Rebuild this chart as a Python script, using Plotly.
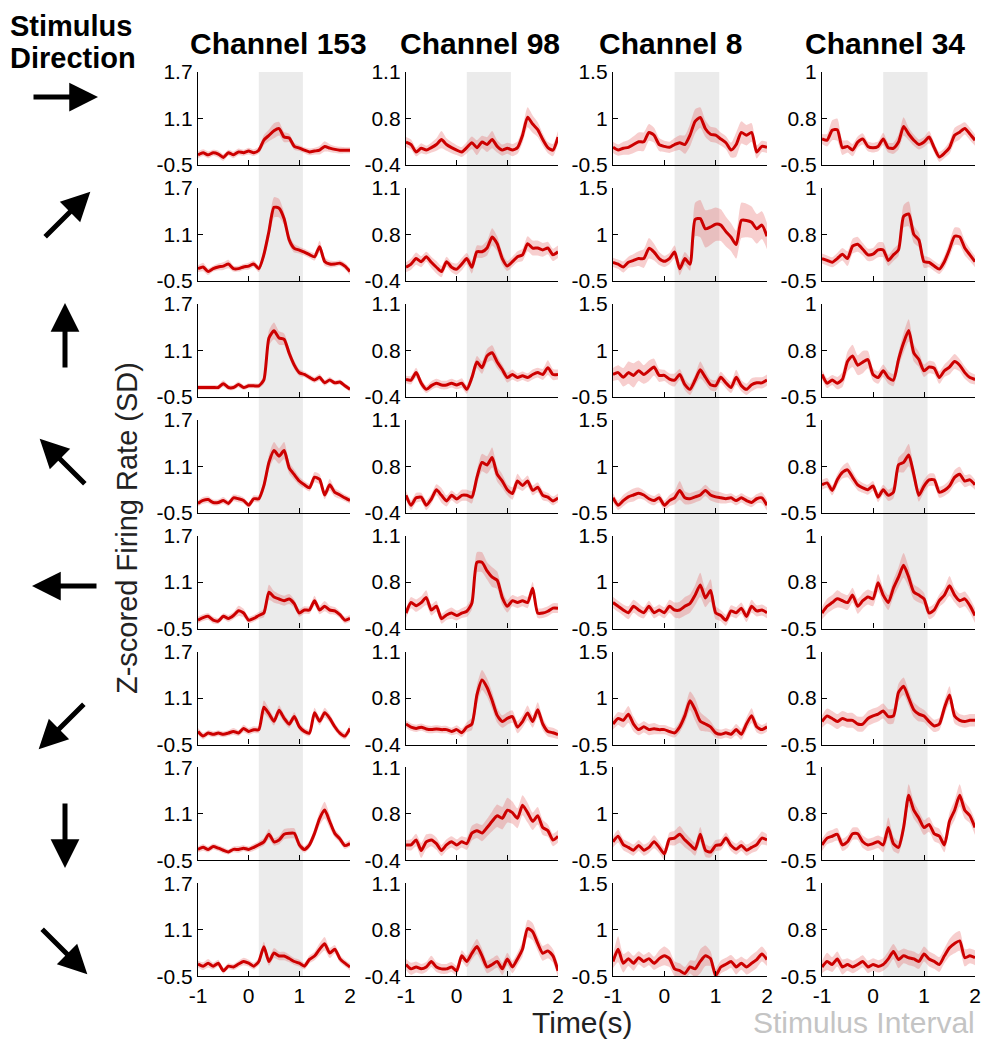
import plotly.graph_objects as go
import math

# ---------------- data ----------------
time = [-1.0, -0.9, -0.8, -0.7, -0.6, -0.5, -0.4, -0.3, -0.2, -0.1, 0.0, 0.1, 0.2, 0.3, 0.4, 0.5,
        0.6, 0.7, 0.8, 0.9, 1.0, 1.1, 1.2, 1.3, 1.4, 1.5, 1.6, 1.7, 1.8, 1.9, 2.0]

channels = ["Channel 153", "Channel 98", "Channel 8", "Channel 34"]
y_lo = [-0.5, -0.4, -0.5, -0.5]
y_hi = [1.7, 1.1, 1.5, 1.0]
y_tick_text = [["-0.5", "1.1", "1.7"], ["-0.4", "0.8", "1.1"], ["-0.5", "1", "1.5"], ["-0.5", "0.8", "1"]]
x_tick_vals = [-1, 0, 1, 2]
x_tick_text = ["-1", "0", "1", "2"]
stim_interval = [0.2, 1.07]
directions_deg = [0, 45, 90, 135, 180, 225, 270, 315]

mean_ch153 = [
    [-0.26,-0.21,-0.26,-0.21,-0.24,-0.32,-0.21,-0.26,-0.19,-0.21,-0.17,-0.21,-0.15,0.09,0.20,0.31,0.36,0.16,0.14,-0.06,-0.10,-0.15,-0.19,-0.17,-0.15,-0.06,-0.10,-0.13,-0.15,-0.15,-0.15],
    [-0.21,-0.17,-0.28,-0.21,-0.17,-0.15,-0.10,-0.21,-0.21,-0.17,-0.15,-0.10,-0.21,0.12,0.67,1.24,1.22,0.97,0.47,0.27,0.23,0.18,0.12,0.07,0.31,-0.04,-0.10,-0.10,-0.08,-0.15,-0.28],
    [-0.28,-0.28,-0.28,-0.28,-0.28,-0.19,-0.28,-0.28,-0.21,-0.28,-0.24,-0.24,-0.24,-0.10,0.89,1.06,0.89,0.86,0.53,0.25,0.07,0.03,-0.04,-0.10,-0.04,-0.17,-0.10,-0.17,-0.15,-0.24,-0.32],
    [-0.28,-0.21,-0.19,-0.26,-0.26,-0.21,-0.28,-0.15,-0.17,-0.21,-0.32,-0.17,-0.17,0.14,0.69,0.97,0.84,0.97,0.56,0.40,0.25,0.16,0.09,0.34,0.29,-0.08,0.16,-0.02,-0.08,-0.15,-0.21],
    [-0.30,-0.24,-0.21,-0.30,-0.32,-0.21,-0.26,-0.19,-0.08,-0.13,-0.30,-0.26,-0.19,-0.13,0.36,0.25,0.20,0.16,0.20,0.09,-0.13,-0.06,-0.06,0.16,-0.06,0.03,-0.06,-0.08,-0.17,-0.30,-0.26],
    [-0.19,-0.30,-0.23,-0.26,-0.23,-0.26,-0.23,-0.19,-0.23,-0.12,-0.19,-0.15,-0.15,0.38,0.23,0.05,0.31,0.12,-0.02,0.16,-0.08,-0.19,-0.23,0.25,0.05,0.25,0.12,-0.08,-0.23,-0.30,-0.12],
    [-0.24,-0.19,-0.24,-0.17,-0.21,-0.26,-0.30,-0.24,-0.24,-0.21,-0.24,-0.19,-0.13,-0.06,0.12,-0.06,-0.02,0.12,0.14,0.14,-0.13,-0.24,-0.13,0.14,0.49,0.69,0.42,0.14,0.01,-0.15,-0.10],
    [-0.21,-0.26,-0.19,-0.26,-0.19,-0.37,-0.26,-0.28,-0.21,-0.15,-0.19,-0.26,-0.15,0.20,-0.15,0.05,-0.02,-0.02,-0.08,-0.15,-0.19,-0.26,-0.10,-0.02,0.14,0.27,0.05,0.14,-0.08,-0.19,-0.28],
]
sem_ch153 = [
    [0.08,0.08,0.08,0.07,0.08,0.08,0.07,0.08,0.08,0.07,0.08,0.08,0.08,0.12,0.14,0.18,0.16,0.12,0.10,0.08,0.07,0.07,0.08,0.08,0.10,0.12,0.09,0.08,0.08,0.07,0.07],
    [0.08,0.10,0.08,0.07,0.08,0.09,0.10,0.07,0.07,0.07,0.08,0.08,0.08,0.12,0.18,0.24,0.22,0.15,0.12,0.10,0.08,0.08,0.08,0.09,0.14,0.10,0.08,0.07,0.07,0.08,0.08],
    [0.06,0.06,0.06,0.06,0.06,0.08,0.06,0.06,0.07,0.06,0.06,0.06,0.06,0.10,0.18,0.20,0.16,0.14,0.12,0.10,0.08,0.07,0.07,0.07,0.08,0.07,0.07,0.06,0.06,0.06,0.06],
    [0.07,0.08,0.08,0.07,0.07,0.08,0.07,0.08,0.08,0.07,0.07,0.08,0.08,0.12,0.18,0.20,0.18,0.20,0.14,0.12,0.10,0.09,0.09,0.12,0.12,0.10,0.14,0.10,0.09,0.08,0.08],
    [0.08,0.08,0.08,0.08,0.07,0.07,0.08,0.08,0.12,0.10,0.08,0.08,0.08,0.10,0.18,0.14,0.12,0.12,0.12,0.10,0.09,0.09,0.09,0.12,0.10,0.12,0.10,0.09,0.08,0.08,0.08],
    [0.08,0.08,0.07,0.07,0.07,0.07,0.07,0.08,0.07,0.09,0.08,0.08,0.08,0.16,0.12,0.10,0.12,0.10,0.09,0.10,0.08,0.08,0.08,0.12,0.10,0.12,0.10,0.09,0.08,0.08,0.09],
    [0.07,0.08,0.07,0.07,0.07,0.07,0.06,0.07,0.08,0.07,0.07,0.08,0.08,0.09,0.12,0.09,0.10,0.12,0.12,0.12,0.09,0.08,0.09,0.12,0.16,0.20,0.16,0.10,0.09,0.08,0.08],
    [0.08,0.09,0.10,0.08,0.08,0.07,0.07,0.07,0.08,0.09,0.08,0.08,0.09,0.12,0.10,0.12,0.10,0.10,0.09,0.08,0.08,0.08,0.09,0.10,0.14,0.16,0.12,0.10,0.09,0.08,0.08],
]

mean_ch98 = [
    [-0.03,-0.07,-0.19,-0.13,-0.16,-0.12,-0.07,0.01,-0.07,-0.12,-0.16,-0.19,-0.12,-0.04,-0.12,-0.03,-0.07,0.01,-0.10,-0.16,-0.13,-0.16,-0.12,0.08,0.37,0.26,0.17,0.01,-0.12,-0.16,0.05],
    [-0.18,-0.13,-0.04,-0.09,-0.01,-0.10,-0.18,-0.25,-0.09,-0.18,-0.21,-0.13,-0.04,-0.18,0.07,0.07,0.13,0.31,0.20,-0.04,-0.16,-0.09,-0.01,0.02,0.20,0.13,0.13,0.10,0.13,0.02,0.07],
    [-0.12,-0.13,-0.01,-0.18,-0.28,-0.22,-0.18,-0.21,-0.21,-0.18,-0.21,-0.18,-0.28,-0.09,0.16,0.07,0.26,0.31,0.16,0.04,-0.09,-0.04,-0.09,-0.06,-0.09,-0.04,-0.01,-0.04,0.07,-0.04,-0.04],
    [-0.12,-0.28,-0.16,-0.15,-0.28,-0.18,-0.03,-0.12,-0.21,-0.12,-0.18,-0.12,-0.12,-0.15,0.17,0.41,0.37,0.49,0.22,0.11,-0.03,-0.09,0.11,0.04,0.11,-0.04,0.01,-0.12,-0.15,-0.21,-0.16],
    [-0.15,0.02,-0.03,0.02,0.10,-0.10,-0.04,-0.24,-0.18,-0.15,-0.19,-0.15,-0.12,0.01,0.67,0.67,0.53,0.43,0.38,0.10,-0.04,0.05,0.02,0.05,0.02,0.25,-0.15,-0.15,-0.12,-0.07,-0.07],
    [-0.07,-0.12,-0.14,-0.12,-0.15,-0.16,-0.15,-0.16,-0.16,-0.19,-0.16,-0.21,-0.12,-0.07,0.40,0.64,0.52,0.31,0.07,-0.03,0.02,0.05,-0.12,-0.03,0.11,-0.03,0.16,-0.07,-0.19,-0.21,-0.24],
    [-0.15,-0.15,-0.07,-0.24,-0.10,-0.07,-0.13,-0.24,-0.15,-0.10,-0.15,-0.10,-0.13,0.04,0.08,0.04,0.13,0.23,0.32,0.28,0.41,0.37,0.28,0.49,0.37,0.23,0.32,0.13,0.08,-0.07,-0.01],
    [-0.21,-0.28,-0.25,-0.28,-0.25,-0.16,-0.25,-0.28,-0.28,-0.25,-0.31,-0.07,-0.16,-0.03,0.08,-0.07,-0.25,-0.21,-0.16,-0.28,-0.12,-0.25,-0.12,0.04,0.37,0.32,0.13,-0.03,0.01,-0.07,-0.31],
]
sem_ch98 = [
    [0.08,0.08,0.07,0.08,0.07,0.08,0.10,0.14,0.10,0.09,0.08,0.08,0.09,0.10,0.12,0.10,0.12,0.14,0.10,0.09,0.09,0.10,0.10,0.12,0.16,0.14,0.12,0.10,0.09,0.10,0.10],
    [0.08,0.09,0.10,0.09,0.08,0.09,0.10,0.09,0.08,0.08,0.09,0.10,0.09,0.10,0.10,0.10,0.12,0.14,0.12,0.10,0.08,0.08,0.09,0.10,0.12,0.12,0.12,0.11,0.10,0.10,0.10],
    [0.06,0.07,0.08,0.07,0.06,0.07,0.07,0.07,0.07,0.07,0.07,0.08,0.07,0.08,0.10,0.10,0.11,0.12,0.10,0.08,0.08,0.08,0.07,0.07,0.07,0.08,0.08,0.09,0.12,0.09,0.08],
    [0.07,0.08,0.08,0.07,0.08,0.08,0.09,0.12,0.09,0.08,0.08,0.09,0.09,0.10,0.12,0.14,0.14,0.16,0.12,0.11,0.09,0.10,0.12,0.09,0.09,0.08,0.08,0.08,0.07,0.07,0.07],
    [0.08,0.09,0.10,0.10,0.12,0.09,0.09,0.08,0.08,0.09,0.08,0.08,0.09,0.10,0.16,0.16,0.14,0.16,0.14,0.12,0.10,0.09,0.09,0.09,0.09,0.10,0.08,0.08,0.08,0.08,0.08],
    [0.06,0.06,0.06,0.06,0.06,0.06,0.06,0.06,0.06,0.06,0.07,0.07,0.08,0.10,0.16,0.16,0.15,0.14,0.12,0.10,0.10,0.10,0.10,0.10,0.12,0.10,0.12,0.10,0.08,0.08,0.07],
    [0.08,0.09,0.10,0.12,0.12,0.10,0.10,0.09,0.09,0.09,0.09,0.09,0.10,0.12,0.12,0.13,0.14,0.16,0.18,0.18,0.20,0.18,0.16,0.16,0.16,0.14,0.14,0.12,0.10,0.10,0.10],
    [0.09,0.10,0.09,0.08,0.08,0.09,0.08,0.08,0.08,0.08,0.08,0.09,0.09,0.10,0.12,0.12,0.10,0.10,0.10,0.10,0.10,0.10,0.10,0.12,0.14,0.14,0.12,0.12,0.12,0.11,0.10],
]

mean_ch8 = [
    [-0.12,-0.18,-0.14,-0.12,-0.06,0.00,0.00,0.20,0.14,-0.06,-0.10,-0.12,-0.06,-0.02,-0.06,0.14,0.44,0.52,0.28,0.16,0.14,0.06,-0.02,-0.18,-0.06,0.20,0.14,0.20,-0.22,-0.10,-0.12],
    [-0.10,-0.14,-0.20,-0.10,-0.06,-0.02,-0.02,0.20,0.12,-0.02,-0.08,-0.02,0.12,-0.24,-0.02,-0.14,0.82,0.84,0.62,0.66,0.72,0.70,0.56,0.44,0.28,0.80,0.80,0.76,0.62,0.70,0.46],
    [-0.02,0.02,-0.08,0.02,-0.04,0.06,-0.02,0.06,0.14,-0.04,-0.04,-0.12,-0.14,-0.02,-0.24,-0.34,-0.14,0.08,-0.08,-0.24,-0.26,-0.08,-0.20,-0.30,-0.08,-0.26,-0.34,-0.24,-0.20,-0.20,-0.14],
    [-0.18,-0.34,-0.24,-0.16,-0.12,-0.08,-0.12,-0.20,-0.24,-0.18,-0.34,-0.24,-0.18,-0.02,-0.18,-0.20,-0.16,-0.12,-0.02,-0.12,-0.16,-0.18,-0.20,-0.18,-0.24,-0.18,-0.24,-0.28,-0.20,-0.18,-0.34],
    [0.06,-0.02,-0.10,-0.16,-0.02,-0.10,-0.16,-0.02,-0.16,-0.10,-0.16,-0.02,-0.10,-0.10,-0.02,0.04,0.22,0.44,0.16,0.32,-0.16,-0.22,-0.32,-0.12,-0.16,-0.06,-0.24,-0.02,-0.12,-0.10,-0.16],
    [-0.06,0.06,0.02,0.15,-0.06,-0.18,-0.12,-0.18,-0.16,-0.18,-0.18,-0.22,-0.25,-0.12,0.12,0.44,0.25,0.00,-0.06,-0.12,-0.25,-0.28,-0.25,-0.28,-0.18,-0.28,-0.06,0.12,-0.12,-0.18,-0.12],
    [-0.10,0.02,-0.16,-0.22,-0.28,-0.18,-0.28,-0.22,-0.10,-0.22,-0.36,-0.04,-0.02,0.06,-0.06,-0.16,-0.26,0.06,-0.28,-0.32,-0.18,-0.16,-0.02,-0.18,-0.26,-0.18,-0.28,-0.22,-0.16,-0.02,-0.06],
    [-0.18,0.08,-0.22,-0.12,-0.22,-0.10,-0.18,-0.12,-0.22,-0.12,-0.06,-0.12,-0.34,-0.38,-0.44,-0.30,-0.34,-0.18,-0.06,-0.12,-0.48,-0.30,-0.24,-0.18,-0.30,-0.22,-0.30,-0.22,-0.14,-0.02,-0.14],
]
sem_ch8 = [
    [0.12,0.12,0.14,0.16,0.18,0.20,0.20,0.18,0.16,0.14,0.12,0.12,0.14,0.16,0.20,0.24,0.26,0.22,0.18,0.16,0.16,0.14,0.14,0.16,0.26,0.24,0.22,0.20,0.14,0.12,0.12],
    [0.10,0.10,0.12,0.12,0.14,0.16,0.20,0.22,0.18,0.14,0.12,0.12,0.14,0.14,0.14,0.14,0.36,0.40,0.40,0.38,0.36,0.34,0.32,0.30,0.30,0.38,0.36,0.34,0.32,0.30,0.28],
    [0.14,0.16,0.20,0.24,0.26,0.22,0.20,0.22,0.18,0.14,0.12,0.12,0.14,0.12,0.12,0.12,0.12,0.18,0.14,0.12,0.12,0.12,0.12,0.12,0.16,0.12,0.12,0.14,0.12,0.12,0.12],
    [0.10,0.10,0.12,0.12,0.14,0.12,0.10,0.10,0.10,0.10,0.10,0.12,0.14,0.20,0.14,0.12,0.12,0.12,0.12,0.12,0.12,0.12,0.10,0.10,0.10,0.10,0.10,0.10,0.10,0.12,0.12],
    [0.12,0.12,0.12,0.14,0.14,0.14,0.12,0.12,0.12,0.12,0.12,0.14,0.16,0.18,0.20,0.20,0.22,0.26,0.20,0.24,0.14,0.12,0.12,0.12,0.12,0.12,0.12,0.14,0.12,0.12,0.12],
    [0.12,0.14,0.16,0.18,0.16,0.12,0.12,0.12,0.12,0.10,0.10,0.10,0.10,0.12,0.16,0.20,0.24,0.20,0.16,0.12,0.10,0.10,0.10,0.10,0.12,0.12,0.14,0.16,0.12,0.10,0.10],
    [0.12,0.14,0.12,0.12,0.12,0.12,0.12,0.12,0.14,0.12,0.12,0.14,0.16,0.18,0.16,0.14,0.14,0.16,0.14,0.12,0.12,0.12,0.12,0.12,0.12,0.12,0.12,0.12,0.14,0.14,0.12],
    [0.14,0.28,0.20,0.16,0.16,0.14,0.14,0.14,0.14,0.18,0.20,0.18,0.16,0.16,0.14,0.14,0.18,0.26,0.22,0.16,0.14,0.14,0.14,0.14,0.16,0.14,0.16,0.18,0.18,0.16,0.14],
]

mean_ch34 = [
    [-0.08,-0.10,0.06,0.07,-0.22,-0.20,-0.26,-0.13,-0.08,-0.20,-0.22,-0.20,-0.08,-0.22,-0.23,-0.13,0.12,0.00,-0.10,-0.17,-0.13,-0.05,-0.22,-0.37,-0.31,-0.22,-0.02,0.03,0.09,0.00,-0.10],
    [-0.14,-0.17,-0.20,-0.14,-0.07,-0.14,0.06,0.09,0.01,-0.08,-0.07,0.00,0.00,-0.17,-0.08,0.00,0.54,0.58,0.25,0.16,-0.19,-0.20,-0.26,-0.31,-0.19,0.01,0.22,0.21,0.03,-0.08,-0.19],
    [-0.14,-0.28,-0.23,-0.28,-0.22,0.07,0.16,0.01,0.06,0.10,-0.14,-0.19,-0.08,-0.19,-0.23,0.10,0.37,0.57,0.21,0.10,-0.08,-0.02,-0.04,-0.19,-0.08,-0.02,0.07,0.01,-0.11,-0.19,-0.22],
    [-0.05,-0.02,-0.14,0.03,0.15,0.19,0.07,-0.05,-0.10,-0.13,-0.07,-0.25,-0.13,-0.22,-0.17,0.27,0.31,0.43,0.12,-0.22,-0.07,0.03,0.03,-0.17,-0.14,-0.07,0.07,0.12,0.01,0.03,-0.05],
    [-0.25,-0.14,-0.08,-0.02,-0.05,-0.08,0.04,-0.14,-0.05,0.01,-0.02,0.24,0.04,-0.08,0.15,0.33,0.52,0.33,0.09,0.04,-0.02,-0.25,-0.20,-0.05,0.04,0.19,0.04,-0.05,-0.02,-0.13,-0.29],
    [-0.13,-0.04,-0.08,-0.13,-0.08,-0.11,-0.11,-0.17,-0.17,-0.08,-0.04,-0.01,0.04,-0.05,-0.04,0.34,0.44,0.25,0.06,-0.01,-0.04,-0.13,-0.20,-0.17,0.09,0.30,-0.04,-0.11,-0.13,-0.11,-0.11],
    [-0.25,-0.14,-0.11,-0.08,-0.25,-0.20,-0.07,-0.07,-0.20,-0.25,-0.23,-0.20,-0.25,0.03,-0.23,-0.29,0.03,0.55,0.31,0.18,0.03,0.08,-0.07,-0.11,-0.25,0.13,0.31,0.55,0.31,0.22,0.03],
    [-0.35,-0.26,-0.31,-0.22,-0.35,-0.31,-0.35,-0.31,-0.26,-0.35,-0.31,-0.34,-0.31,-0.22,-0.10,-0.23,-0.17,-0.20,-0.22,-0.26,-0.14,-0.22,-0.26,-0.31,-0.17,-0.04,0.03,0.07,-0.20,-0.17,-0.20],
]
sem_ch34 = [
    [0.08,0.10,0.16,0.18,0.12,0.10,0.10,0.09,0.09,0.08,0.08,0.08,0.10,0.08,0.09,0.12,0.15,0.10,0.09,0.08,0.08,0.10,0.08,0.08,0.08,0.10,0.12,0.12,0.10,0.10,0.09],
    [0.08,0.08,0.08,0.09,0.10,0.12,0.12,0.12,0.10,0.10,0.10,0.12,0.12,0.09,0.10,0.10,0.18,0.20,0.14,0.12,0.10,0.08,0.08,0.08,0.10,0.12,0.14,0.14,0.12,0.10,0.09],
    [0.08,0.08,0.08,0.10,0.12,0.16,0.18,0.16,0.18,0.14,0.10,0.10,0.10,0.10,0.10,0.12,0.16,0.18,0.14,0.12,0.10,0.10,0.10,0.10,0.10,0.12,0.12,0.10,0.10,0.09,0.08],
    [0.08,0.08,0.08,0.09,0.10,0.12,0.10,0.09,0.08,0.08,0.08,0.08,0.08,0.09,0.10,0.12,0.16,0.18,0.12,0.10,0.10,0.10,0.10,0.09,0.09,0.10,0.12,0.12,0.10,0.09,0.08],
    [0.10,0.12,0.12,0.14,0.12,0.12,0.12,0.12,0.12,0.12,0.12,0.14,0.12,0.12,0.14,0.16,0.20,0.16,0.12,0.12,0.10,0.10,0.10,0.10,0.12,0.16,0.12,0.12,0.12,0.12,0.12],
    [0.10,0.12,0.12,0.12,0.12,0.12,0.12,0.12,0.12,0.12,0.12,0.12,0.12,0.12,0.12,0.14,0.14,0.12,0.12,0.12,0.10,0.10,0.10,0.10,0.12,0.14,0.12,0.10,0.10,0.10,0.10],
    [0.10,0.10,0.10,0.10,0.10,0.10,0.10,0.10,0.10,0.10,0.10,0.10,0.12,0.16,0.12,0.10,0.12,0.18,0.14,0.12,0.12,0.12,0.12,0.12,0.12,0.14,0.16,0.18,0.14,0.12,0.12],
    [0.10,0.14,0.12,0.12,0.12,0.10,0.10,0.10,0.10,0.10,0.10,0.10,0.10,0.12,0.12,0.14,0.12,0.12,0.12,0.12,0.12,0.12,0.12,0.12,0.12,0.14,0.16,0.16,0.14,0.12,0.12],
]

means = [mean_ch153, mean_ch98, mean_ch8, mean_ch34]
sems = [sem_ch153, sem_ch98, sem_ch8, sem_ch34]

# ---------------- layout constants (page pixels) ----------------
PAGE_OFF = 8            # default body margin of the html page
W, H = 991 - 2 * PAGE_OFF, 1050 - 2 * PAGE_OFF
col_left = [198, 406, 613, 822]
col_width = [152, 152, 154, 153]
row_top0, row_pitch, row_h = 72, 115.9, 93
title_x = [278, 480, 670, 885]
arrow_centers = [(65, 97), (67, 215), (65, 336), (63, 462), (65, 586), (62, 726), (65, 835), (64, 951)]
arrow_len = 66

FONT = "Liberation Sans, Arial, Helvetica, sans-serif"
LINE_RED = "#cc0000"
BAND = "rgba(228,80,80,0.28)"
SHADE = "#ebebeb"


def px_x(x):
    return (x - PAGE_OFF) / W


def px_y(y):
    return 1 - (y - PAGE_OFF) / H


fig = go.Figure()
layout_axes = {}
shapes = []
annotations = []

for c in range(4):
    for r in range(8):
        n = r * 4 + c + 1
        xa = "x" if n == 1 else f"x{n}"
        ya = "y" if n == 1 else f"y{n}"
        m = means[c][r]
        s = sems[c][r]
        upper = [a + b for a, b in zip(m, s)]
        lower = [a - b for a, b in zip(m, s)]
        fig.add_trace(go.Scatter(x=time, y=upper, xaxis=xa, yaxis=ya, mode="lines",
                                 line=dict(width=0, shape="spline", smoothing=0.6),
                                 hoverinfo="skip", showlegend=False))
        fig.add_trace(go.Scatter(x=time, y=lower, xaxis=xa, yaxis=ya, mode="lines",
                                 line=dict(width=0, shape="spline", smoothing=0.6),
                                 fill="tonexty", fillcolor=BAND,
                                 hoverinfo="skip", showlegend=False))
        fig.add_trace(go.Scatter(x=time, y=m, xaxis=xa, yaxis=ya, mode="lines",
                                 line=dict(color=LINE_RED, width=3, shape="spline", smoothing=0.6),
                                 showlegend=False))

        top = row_top0 + row_pitch * r
        bot = top + row_h
        xdom = [px_x(col_left[c]), px_x(col_left[c] + col_width[c])]
        ydom = [px_y(bot), px_y(top)]
        key_x = "xaxis" if n == 1 else f"xaxis{n}"
        key_y = "yaxis" if n == 1 else f"yaxis{n}"
        layout_axes[key_x] = dict(
            domain=xdom, anchor=ya, range=[-1, 2], tickmode="array",
            tickvals=x_tick_vals, ticktext=x_tick_text, showticklabels=(r == 7),
            ticks="inside", ticklen=5, tickwidth=1, tickcolor="black",
            showline=True, linecolor="black", linewidth=1.3,
            showgrid=False, zeroline=False, automargin=False,
            tickfont=dict(family=FONT, size=21, color="black"))
        lo, hi = y_lo[c], y_hi[c]
        layout_axes[key_y] = dict(
            domain=ydom, anchor=xa, range=[lo, hi], tickmode="array",
            tickvals=[lo, (lo + hi) / 2, hi], ticktext=y_tick_text[c],
            ticks="inside", ticklen=5, tickwidth=1, tickcolor="black",
            showline=True, linecolor="black", linewidth=1.3,
            showgrid=False, zeroline=False, automargin=False,
            tickfont=dict(family=FONT, size=21, color="black"))

    # stimulus interval shading spanning the whole column
    nb = 7 * 4 + c + 1
    shapes.append(dict(type="rect", xref=f"x{nb}", yref="paper",
                       x0=stim_interval[0], x1=stim_interval[1],
                       y0=px_y(row_top0 + row_pitch * 7 + row_h), y1=px_y(row_top0),
                       fillcolor=SHADE, line=dict(width=0), layer="below"))
    annotations.append(dict(text=f"<b>{channels[c]}</b>", x=px_x(title_x[c]), y=px_y(43),
                            xref="paper", yref="paper", xanchor="center", yanchor="middle",
                            showarrow=False, font=dict(family=FONT, size=30, color="black")))

# direction arrows
for (cx, cy), deg in zip(arrow_centers, directions_deg):
    dx = math.cos(math.radians(deg)) * arrow_len
    dy = -math.sin(math.radians(deg)) * arrow_len
    hx, hy = cx + dx / 2, cy + dy / 2
    annotations.append(dict(x=px_x(hx), y=px_y(hy), xref="paper", yref="paper",
                            ax=-dx, ay=-dy, axref="pixel", ayref="pixel",
                            showarrow=True, arrowhead=2, arrowwidth=5, arrowsize=1.15,
                            arrowcolor="black", text=""))

annotations += [
    dict(text="<b>Stimulus</b>", x=px_x(8), y=px_y(26), xref="paper", yref="paper",
         xanchor="left", yanchor="middle", showarrow=False,
         font=dict(family=FONT, size=29, color="black")),
    dict(text="<b>Direction</b>", x=px_x(8), y=px_y(58), xref="paper", yref="paper",
         xanchor="left", yanchor="middle", showarrow=False,
         font=dict(family=FONT, size=29, color="black")),
    dict(text="Z-scored Firing Rate (SD)", x=px_x(127), y=px_y(528), xref="paper", yref="paper",
         textangle=-90, xanchor="center", yanchor="middle", showarrow=False,
         font=dict(family=FONT, size=29, color="#222222")),
    dict(text="Time(s)", x=px_x(582), y=px_y(1022), xref="paper", yref="paper",
         xanchor="center", yanchor="middle", showarrow=False,
         font=dict(family=FONT, size=30, color="#222222")),
    dict(text="Stimulus Interval", x=px_x(977), y=px_y(1022), xref="paper", yref="paper",
         xanchor="right", yanchor="middle", showarrow=False,
         font=dict(family=FONT, size=30, color="#c4c4c4")),
]

fig.update_layout(
    width=W, height=H, autosize=False,
    margin=dict(l=0, r=0, t=0, b=0, pad=0, autoexpand=False),
    paper_bgcolor="white", plot_bgcolor="rgba(0,0,0,0)",
    showlegend=False, shapes=shapes, annotations=annotations,
    font=dict(family=FONT, color="black"),
    **layout_axes)

fig.write_html("out.html")
